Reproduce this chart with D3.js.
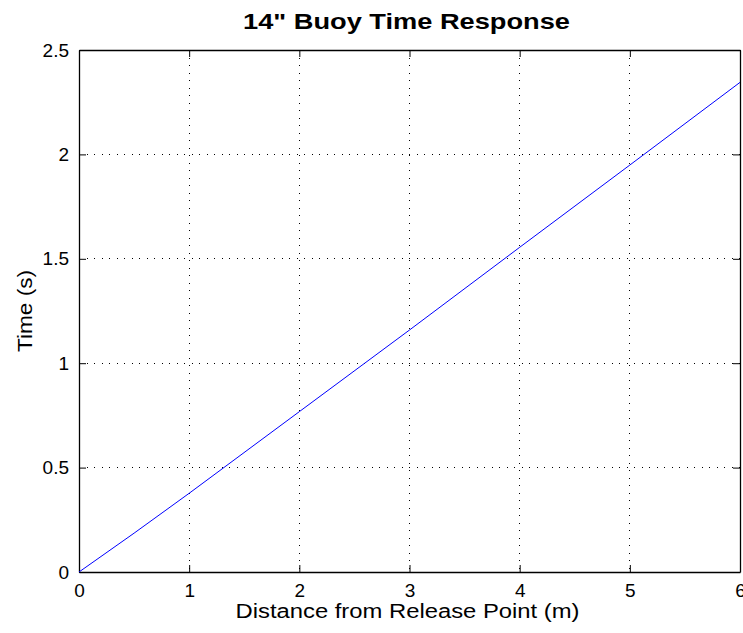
<!DOCTYPE html>
<html>
<head>
<meta charset="utf-8">
<script src="https://cdn.jsdelivr.net/npm/d3@7"></script>
<style>
  body { margin: 0; background: #fff; }
  text { font-family: "Liberation Sans", Arial, sans-serif; fill: #000; }
</style>
</head>
<body>
<div id="chart"></div>
<script>
// distance from release point (m) vs time (s)
var distance = [0, 0.5, 1, 2, 3, 4, 5, 6];
var time = [0, 0.186, 0.377, 0.768, 1.159, 1.555, 1.949, 2.345];

var xTicks = [0, 1, 2, 3, 4, 5, 6];
var yTicks = [0, 0.5, 1, 1.5, 2, 2.5];
var yTickLabels = ['0', '0.5', '1', '1.5', '2', '2.5'];

var width = 743, height = 633;
var margin = {top: 50, right: 3, bottom: 61, left: 79};
var w = width - margin.left - margin.right,
    h = height - margin.top - margin.bottom;

var svg = d3.select('#chart').append('svg')
  .attr('width', width)
  .attr('height', height);

var g = svg.append('g')
  .attr('transform', 'translate(' + margin.left + ',' + margin.top + ')');

var x = d3.scaleLinear().domain([0, 6]).range([0, w]);
var y = d3.scaleLinear().domain([0, 2.5]).range([h, 0]);

// dotted grid
g.selectAll('.vgrid').data(xTicks.slice(1, -1)).enter().append('line')
  .attr('x1', d => x(d)).attr('x2', d => x(d))
  .attr('y1', 0).attr('y2', h)
  .attr('stroke', '#000').attr('stroke-width', 1)
  .attr('stroke-dasharray', '1,6.5')
  .attr('shape-rendering', 'crispEdges');
g.selectAll('.hgrid').data(yTicks.slice(1, -1)).enter().append('line')
  .attr('x1', 0).attr('x2', w)
  .attr('y1', d => y(d)).attr('y2', d => y(d))
  .attr('stroke', '#000').attr('stroke-width', 1)
  .attr('stroke-dasharray', '1,6.5')
  .attr('shape-rendering', 'crispEdges');

// axes, ticks pointing inward like matlab
var tl = 7;
g.append('g').attr('transform', 'translate(0,' + h + ')')
  .call(d3.axisBottom(x).tickValues(xTicks).tickSizeInner(-tl).tickSizeOuter(0).tickPadding(12).tickFormat(d3.format('d')));
g.append('g')
  .call(d3.axisTop(x).tickValues(xTicks).tickSizeInner(-tl).tickSizeOuter(0).tickFormat(''));
g.append('g')
  .call(d3.axisLeft(y).tickValues(yTicks).tickSizeInner(-tl).tickSizeOuter(0).tickPadding(10)
    .tickFormat((d, i) => yTickLabels[i]));
g.append('g').attr('transform', 'translate(' + w + ',0)')
  .call(d3.axisRight(y).tickValues(yTicks).tickSizeInner(-tl).tickSizeOuter(0).tickFormat(''));

g.selectAll('.domain').attr('stroke', '#000').attr('stroke-width', 1.3);
g.selectAll('.tick line').attr('stroke', '#000');
g.selectAll('.tick text').attr('font-size', 19).attr('fill', '#000')
  .style('font-family', '"Liberation Sans", Arial, sans-serif');

// the response line
var line = d3.line()
  .x((d, i) => x(distance[i]))
  .y(d => y(d));

g.append('path')
  .datum(time)
  .attr('d', line)
  .attr('fill', 'none')
  .attr('stroke', '#0000ff')
  .attr('stroke-width', 1);

// labels
svg.append('text')
  .attr('x', margin.left + w / 2 - 3).attr('y', 29)
  .attr('text-anchor', 'middle')
  .attr('font-size', 22).attr('font-weight', 'bold')
  .attr('textLength', 327).attr('lengthAdjust', 'spacingAndGlyphs')
  .text('14" Buoy Time Response');

svg.append('text')
  .attr('x', margin.left + w / 2 - 2).attr('y', 618)
  .attr('text-anchor', 'middle')
  .attr('font-size', 20)
  .attr('textLength', 344).attr('lengthAdjust', 'spacingAndGlyphs')
  .text('Distance from Release Point (m)');

svg.append('text')
  .attr('transform', 'translate(32,' + (margin.top + h / 2) + ') rotate(-90)')
  .attr('text-anchor', 'middle')
  .attr('font-size', 20)
  .attr('textLength', 82).attr('lengthAdjust', 'spacingAndGlyphs')
  .text('Time (s)');
</script>
</body>
</html>
